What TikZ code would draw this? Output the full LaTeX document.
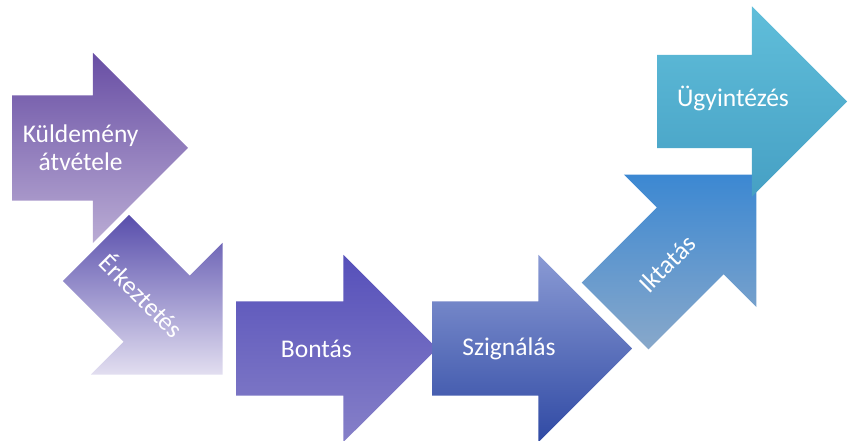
\documentclass[tikz,border=0pt]{standalone}
\usepackage{fontspec}
\setmainfont{Carlito}
\usetikzlibrary{positioning, shapes.arrows, calc}

\definecolor{kuld_top}{RGB}{104,78,164}
\definecolor{kuld_bot}{RGB}{186,172,212}
\definecolor{erk_top}{RGB}{88,78,172}
\definecolor{erk_bot}{RGB}{226,222,240}
\definecolor{bont_top}{RGB}{86,80,186}
\definecolor{bont_bot}{RGB}{134,128,200}
\definecolor{szig_top}{RGB}{138,154,212}
\definecolor{szig_bot}{RGB}{48,74,164}
\definecolor{ikt_top}{RGB}{60,136,210}
\definecolor{ikt_bot}{RGB}{136,168,202}
\definecolor{ugy_top}{RGB}{96,190,218}
\definecolor{ugy_bot}{RGB}{70,160,196}

\begin{document}
\begin{tikzpicture}
    [
        x=1pt, y=1pt,
        arrow_shape/.style={single arrow, single arrow tip angle=90, inner xsep=0pt, inner ysep=47pt, outer sep=0pt, anchor=tail, minimum height=200pt, single arrow head extend=46.5pt},
        arrow_text/.style={text=white, font=\fontsize{25.5}{28}\selectfont, align=center, inner sep=0pt},
    ]
        \useasboundingbox (0,0) rectangle (848,441);
        \node[arrow_shape, minimum height=176pt, inner ysep=52.5pt, single arrow head extend=42.5pt, top color=kuld_top, bottom color=kuld_bot] (kuldemeny) at (12,293) {} ;
        \node[arrow_shape, minimum height=179pt, inner ysep=46.5pt, rotate=-45, top color=erk_top, bottom color=erk_bot] (erkeztetes) at (96,193) {} ;
        \node[arrow_shape, minimum height=201pt, top color=bont_top, bottom color=bont_bot] (bontas) at (236,92.5) {} ;
        \node[arrow_shape, rotate=45, top color=ikt_top, bottom color=ikt_bot] (iktatas) at (615,125) {} ;
        \node[arrow_shape, top color=szig_top, bottom color=szig_bot] (szignalas) at (432,92.5) {} ;
        \node[arrow_shape, minimum height=190pt, inner ysep=46.5pt, single arrow head extend=48.5pt, top color=ugy_top, bottom color=ugy_bot] (ugyintezes) at (657,339.5) {} ;
        % labels
        \node[arrow_text] (kuldemeny_text) at ($(kuldemeny.tail)!0.39!(kuldemeny.tip)$) {Küldemény\\átvétele} ;
        \node[arrow_text, rotate=-45] (erkeztetes_text) at ($(erkeztetes.tail)!0.37!(erkeztetes.tip)$) {Érkeztetés} ;
        \node[arrow_text] (bontas_text) at ($(bontas.tail)!0.40!(bontas.tip)$) {Bontás} ;
        \node[arrow_text] (szignalas_text) at ($(szignalas.tail)!0.385!(szignalas.tip)$) {Szignálás} ;
        \node[arrow_text, rotate=45] (iktatas_text) at ($(iktatas.tail)!0.37!(iktatas.tip)$) {Iktatás} ;
        \node[arrow_text] (ugyintezes_text) at ($(ugyintezes.tail)!0.40!(ugyintezes.tip)+(0,3)$) {Ügyintézés} ;
\end{tikzpicture}
\end{document}
